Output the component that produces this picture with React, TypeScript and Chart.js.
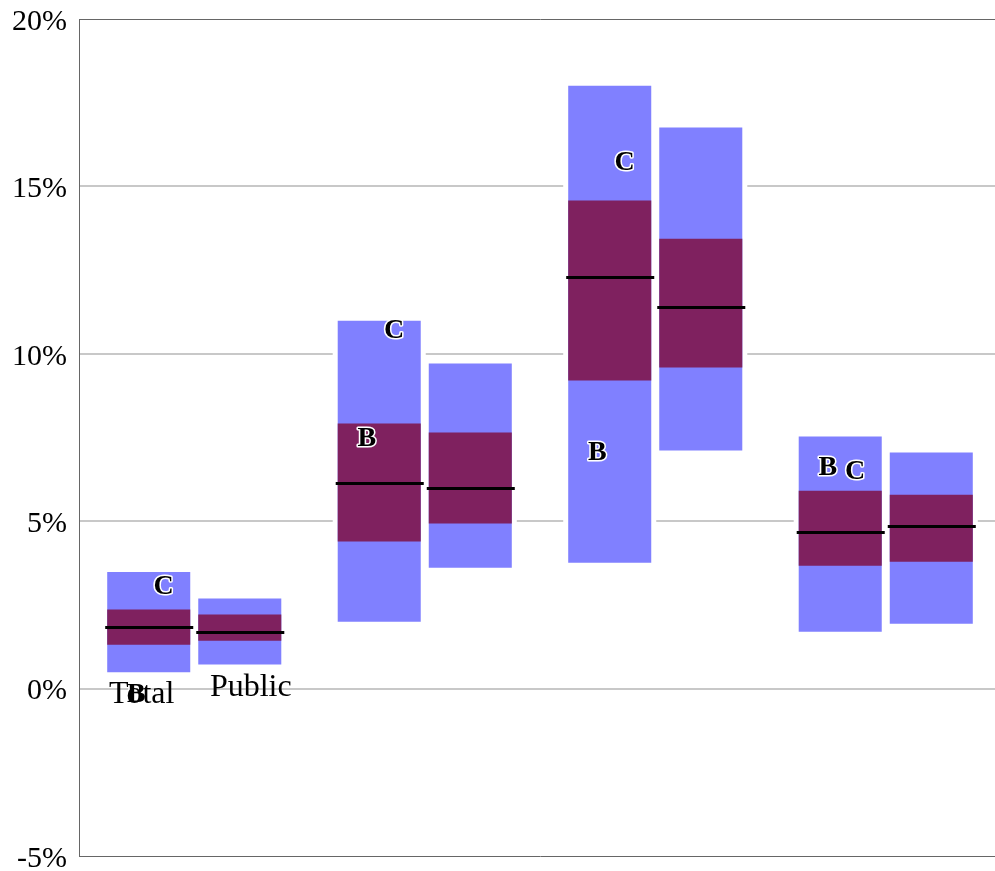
import React, { useEffect, useRef } from 'react';
import { Chart, registerables } from 'chart.js';

Chart.register(...registerables);

// ---- data ----
const groups = ['Group 1', 'Group 2', 'Group 3', 'Group 4'];
const seriesNames = ['Total', 'Public'];

const totalLow = [0.49, 2.0, 3.76, 1.7];
const totalQ1 = [1.31, 4.39, 9.2, 3.67];
const totalMedian = [1.83, 6.13, 12.28, 4.69];
const totalQ3 = [2.36, 7.92, 14.58, 5.91];
const totalHigh = [3.48, 10.99, 18.01, 7.53];

const publicLow = [0.72, 3.61, 7.11, 1.94];
const publicQ1 = [1.43, 4.93, 9.59, 3.79];
const publicMedian = [1.68, 5.99, 11.41, 4.86];
const publicQ3 = [2.21, 7.65, 13.44, 5.79];
const publicHigh = [2.69, 9.71, 16.76, 7.05];

// significance letters (attached to the Total bar of each group)
const letterText = ['C', 'B', 'C', 'B', 'C', 'B', 'B', 'C'];
const letterGroup = [0, 0, 1, 1, 2, 2, 3, 3];
const letterValue = [3.11, -0.12, 10.75, 7.53, 15.77, 7.11, 6.66, 6.54];

// series name labels placed on the first group
const nameValue = [-0.12, 0.09];

const yTicks = [-5, 0, 5, 10, 15, 20];

const FONT = "'Liberation Serif', 'Times New Roman', serif";
const LIGHT = '#8080ff';
const DARK = '#7f215f';

const overlayPlugin = {
  id: 'overlay',
  beforeDatasetsDraw(chart: any) {
    const ctx = chart.ctx;
    ctx.save();
    ctx.fillStyle = '#ffffff';
    [0, 1].forEach((di) => {
      chart.getDatasetMeta(di).data.forEach((bar: any) => {
        const top = Math.min(bar.y, bar.base);
        const h = Math.abs(bar.base - bar.y);
        ctx.fillRect(bar.x - bar.width / 2 - 5, top, bar.width + 10, h);
      });
    });
    ctx.restore();
  },
  afterDatasetsDraw(chart: any) {
    const ctx = chart.ctx;
    const yScale = chart.scales.y;
    ctx.save();
    // median lines
    ctx.strokeStyle = '#000000';
    ctx.lineWidth = 3;
    [totalMedian, publicMedian].forEach((arr, s) => {
      const meta = chart.getDatasetMeta(s);
      arr.forEach((v, i) => {
        const bar = meta.data[i];
        const py = Math.round(yScale.getPixelForValue(v)) + 0.5;
        ctx.beginPath();
        ctx.moveTo(bar.x - bar.width / 2 - 2, py);
        ctx.lineTo(bar.x + bar.width / 2 + 3, py);
        ctx.stroke();
      });
    });

    // letters with white halo
    const size = 28;
    ctx.font = `bold ${size}px ${FONT}`;
    ctx.textAlign = 'center';
    ctx.textBaseline = 'alphabetic';
    ctx.lineJoin = 'round';
    letterText.forEach((t, k) => {
      const bar = chart.getDatasetMeta(0).data[letterGroup[k]];
      const dx = t === 'B' ? -12.5 : 15;
      const px = bar.x + dx;
      const py = yScale.getPixelForValue(letterValue[k]) + size * 0.33;
      ctx.strokeStyle = '#ffffff';
      ctx.lineWidth = 3;
      ctx.strokeText(t, px, py);
      ctx.fillStyle = '#000000';
      ctx.fillText(t, px, py);
    });

    // series names on first group (drawn on top)
    const nsize = 32;
    ctx.font = `${nsize}px ${FONT}`;
    ctx.fillStyle = '#000000';
    const nameDx = [-7, 11];
    seriesNames.forEach((name, s) => {
      const bar = chart.getDatasetMeta(s).data[0];
      const py = yScale.getPixelForValue(nameValue[s]);
      ctx.fillText(name, bar.x + nameDx[s], py + nsize * 0.33);
    });
    ctx.restore();
  },
};

export default function App() {
  const ref = useRef<HTMLCanvasElement | null>(null);

  useEffect(() => {
    if (!ref.current) return;
    const outerTotal = groups.map((_, i) => [totalLow[i], totalHigh[i]]);
    const outerPublic = groups.map((_, i) => [publicLow[i], publicHigh[i]]);
    const innerTotal = groups.map((_, i) => [totalQ1[i], totalQ3[i]]);
    const innerPublic = groups.map((_, i) => [publicQ1[i], publicQ3[i]]);

    const chart = new Chart(ref.current, {
      type: 'bar',
      data: {
        labels: groups,
        datasets: [
          { label: 'Total range', data: outerTotal as any, backgroundColor: LIGHT, stack: 'Total', order: 1 },
          { label: 'Public range', data: outerPublic as any, backgroundColor: LIGHT, stack: 'Public', order: 1 },
          { label: 'Total IQR', data: innerTotal as any, backgroundColor: DARK, stack: 'Total', order: 0 },
          { label: 'Public IQR', data: innerPublic as any, backgroundColor: DARK, stack: 'Public', order: 0 },
        ],
      },
      options: {
        animation: false,
        responsive: true,
        maintainAspectRatio: false,
        layout: { padding: { top: 19, bottom: 15, left: 0, right: 0 } },
        datasets: {
          bar: {
            categoryPercentage: 0.79,
            barPercentage: 0.912,
            borderWidth: 0,
            inflateAmount: 0,
          },
        },
        plugins: {
          legend: { display: false },
          tooltip: { enabled: false },
        },
        scales: {
          x: {
            display: false,
          },
          y: {
            stacked: false,
            min: -5,
            max: 20,
            afterBuildTicks(scale: any) {
              scale.ticks = yTicks.map((v) => ({ value: v }));
            },
            afterFit(scale: any) {
              scale.width = 79;
              scale.paddingTop = 0;
              scale.paddingBottom = 0;
            },
            ticks: {
              padding: 12,
              labelOffset: 3,
              color: '#000000',
              font: { family: FONT, size: 30 },
              callback: (v: any) => `${v}%`,
            },
            grid: {
              drawTicks: false,
              color: (c: any) => (c.tick && (c.tick.value === 20 || c.tick.value === -5) ? '#666666' : '#c8c8c8'),
              lineWidth: (c: any) => (c.tick && (c.tick.value === 20 || c.tick.value === -5) ? 1 : 2),
            },
            border: { display: true, color: '#666666', width: 1 },
          },
        },
      },
      plugins: [overlayPlugin],
    });
    return () => chart.destroy();
  }, []);

  return (
    <div style={{ position: 'absolute', left: 0, top: 0, width: 995, height: 871, overflow: 'hidden' }}>
      <div style={{ position: 'relative', width: 1001, height: 871 }}>
        <canvas ref={ref} />
      </div>
    </div>
  );
}
